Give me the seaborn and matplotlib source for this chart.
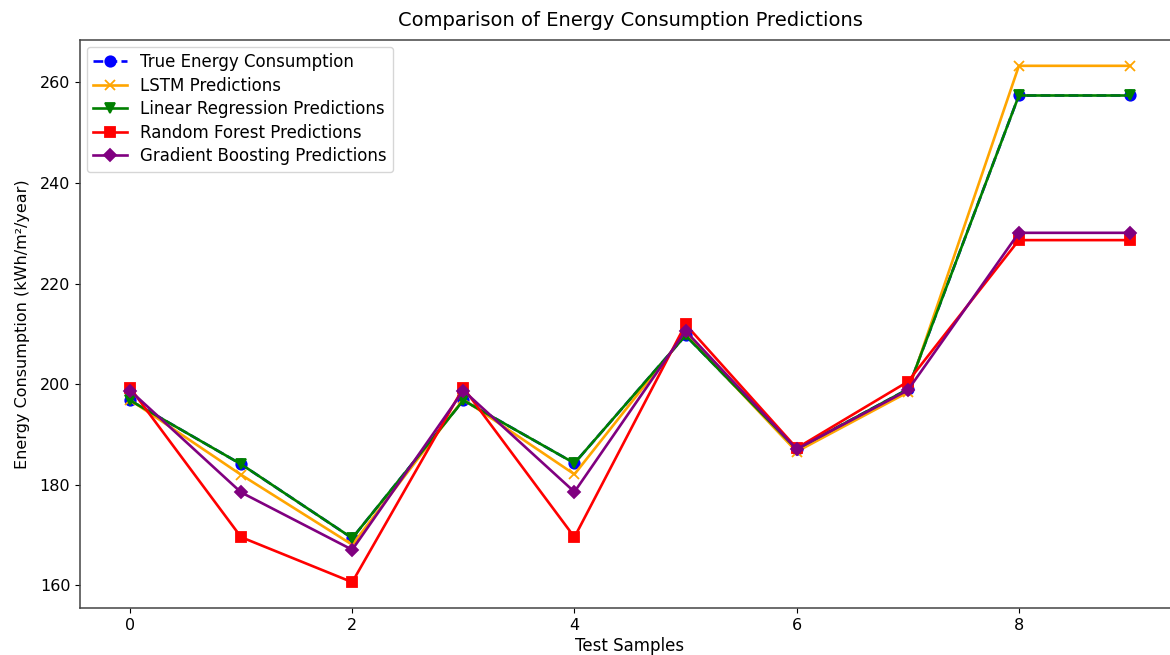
import matplotlib
matplotlib.use("Agg")
import matplotlib.pyplot as plt
import seaborn as sns
import numpy as np
import pandas as pd

samples = list(range(10))
true_vals = [196.8, 184.1, 169.4, 196.8, 184.3, 209.7, 187.1, 199.0, 257.4, 257.4]
lstm_vals = [196.9, 182.0, 168.1, 197.0, 182.1, 210.0, 186.6, 198.4, 263.3, 263.3]
lr_vals = [196.8, 184.1, 169.4, 196.8, 184.3, 209.7, 187.1, 199.0, 257.4, 257.4]
rf_vals = [199.3, 169.6, 160.65, 199.3, 169.6, 211.9, 187.3, 200.5, 228.65, 228.65]
gb_vals = [198.75, 178.5, 167.1, 198.75, 178.6, 210.6, 187.1, 198.8, 230.1, 230.1]

series = [
    ("True Energy Consumption", true_vals, "blue", "o", "--"),
    ("LSTM Predictions", lstm_vals, "orange", "x", "-"),
    ("Linear Regression Predictions", lr_vals, "green", "v", "-"),
    ("Random Forest Predictions", rf_vals, "red", "s", "-"),
    ("Gradient Boosting Predictions", gb_vals, "purple", "D", "-"),
]

plt.rcParams['font.family'] = ['DejaVu Sans']
fig = plt.figure(figsize=(11.7, 6.55), dpi=100)
ax = fig.add_axes([80/1170, 1-608/655, (1180-80)/1170, (608-40)/655])

for label, vals, color, marker, ls in series:
    df = pd.DataFrame({"x": samples, "y": vals})
    mk = 7.5 if marker != "D" else 6.5
    sns.lineplot(data=df, x="x", y="y", ax=ax, color=color, marker=marker,
                 linestyle=ls, linewidth=1.9, markersize=mk,
                 markeredgecolor=color, markeredgewidth=1.3, label=label)

ax.set_xlim(-0.45, 9.45)
ax.set_xticks([0, 2, 4, 6, 8])
ax.set_title("Comparison of Energy Consumption Predictions", fontsize=14, pad=10)
ax.set_xlabel("Test Samples", fontsize=12, labelpad=3)
ax.set_ylabel("Energy Consumption (kWh/m²/year)", fontsize=11.5, labelpad=7)
ax.tick_params(labelsize=11.5)
for s in ax.spines.values():
    s.set_color("#444444")
    s.set_linewidth(1.1)
ax.legend(loc="upper left", fontsize=12, borderaxespad=0.4, labelspacing=0.33)

fig.savefig("out.png", dpi=100)
